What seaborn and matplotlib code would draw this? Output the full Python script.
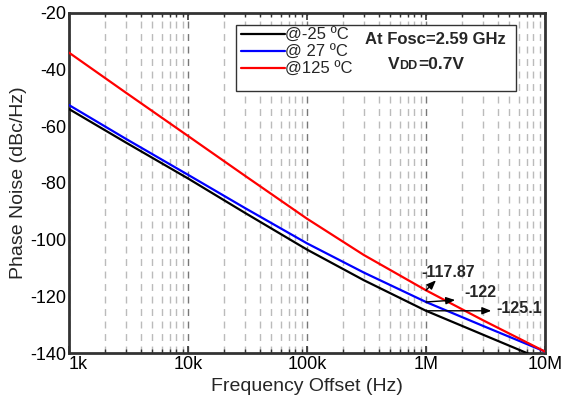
import numpy as np
import pandas as pd
import seaborn as sns
import matplotlib
matplotlib.use('Agg')
import matplotlib.pyplot as plt
from matplotlib.ticker import FixedLocator, MultipleLocator, NullFormatter, FixedFormatter, LogLocator
from matplotlib.patches import Rectangle

# ---------------- data ----------------
freq = [1e3, 3e3, 1e4, 3e4, 1e5, 3e5, 1e6, 3e6, 1e7]
pn_m25 = [-53.9, -65.7, -78.4, -90.5, -103.5, -114.3, -125.1, -133.5, -142.7]
pn_27 = [-52.5, -64.4, -77.1, -88.8, -101.3, -111.6, -122.0, -130.4, -139.5]
pn_125 = [-34.0, -48.1, -63.4, -77.4, -92.6, -105.4, -117.87, -128.4, -139.5]
series_labels = ['@-25 ºC', '@ 27 ºC', '@125 ºC']
series_colors = ['#000000', '#0000ff', '#ff0000']
xtick_vals = [1e3, 1e4, 1e5, 1e6, 1e7]
xtick_labels = ['1k', '10k', '100k', '1M', '10M']
marker_freq = 1e6
marker_vals = [-117.87, -122.0, -125.1]
marker_texts = ['-117.87', '-122', '-125.1']

df = pd.DataFrame({
    'freq': freq * 3,
    'pn': pn_m25 + pn_27 + pn_125,
    'series': [series_labels[0]] * len(freq) + [series_labels[1]] * len(freq) + [series_labels[2]] * len(freq),
})

# ---------------- style ----------------
sns.set_theme(style='white')
plt.rcParams['font.family'] = ['Liberation Sans', 'DejaVu Sans']
plt.rcParams['axes.unicode_minus'] = False

fig = plt.figure(figsize=(5.63, 4.01), dpi=100)
ax = fig.add_axes([0.1226, 0.1197, 0.968 - 0.1226, 0.9676 - 0.1197])

sns.lineplot(data=df, x='freq', y='pn', hue='series', palette=dict(zip(series_labels, series_colors)),
             hue_order=series_labels, linewidth=1.6, ax=ax, legend=False, zorder=3)

ax.set_xscale('log')
ax.set_xlim(1e3, 1e7)
ax.set_ylim(-140, -20)

# ticks
ax.xaxis.set_major_locator(FixedLocator(xtick_vals))
ax.xaxis.set_major_formatter(FixedFormatter(xtick_labels))
ax.xaxis.set_minor_locator(LogLocator(base=10, subs=np.arange(2, 10)))
ax.xaxis.set_minor_formatter(NullFormatter())
ax.yaxis.set_major_locator(MultipleLocator(20))
ax.yaxis.set_minor_locator(MultipleLocator(10))
ax.tick_params(axis='both', which='both', direction='in', colors='#333333', labelcolor='black')
ax.tick_params(axis='x', which='both', top=True, bottom=True)
ax.tick_params(axis='both', which='major', length=5, width=1.2, labelsize=13, pad=2)
ax.tick_params(axis='both', which='minor', length=3, width=1.0)
ax.get_xticklabels()[0].set_horizontalalignment('left')

# grid
ax.grid(False)
ax.xaxis.grid(True, which='major', linestyle=(0, (5, 4)), color='#777777', linewidth=1.0, zorder=0)
ax.xaxis.grid(True, which='minor', linestyle=(0, (5, 4)), color='#bbbbbb', linewidth=1.0, zorder=0)

for sp in ax.spines.values():
    sp.set_color('#333333')
    sp.set_linewidth(2)

ax.set_xlabel('Frequency Offset (Hz)', fontsize=14, labelpad=4)
ax.set_ylabel('Phase Noise (dBc/Hz)', fontsize=14, labelpad=2)

# legend box
box = Rectangle((0.351, 0.770), 0.939 - 0.351, 0.965 - 0.770, transform=ax.transAxes,
                facecolor='white', edgecolor='#333333', linewidth=1.0, zorder=4)
ax.add_patch(box)
handles = [plt.Line2D([], [], color=c, linewidth=1.6) for c in series_colors]
leg = ax.legend(handles, series_labels, loc='upper left', bbox_to_anchor=(0.362, 0.957),
                frameon=False, fontsize=12, handlelength=2.6, handletextpad=0.05,
                labelspacing=0.12, borderpad=0, borderaxespad=0)
leg.set_zorder(5)

ax.text(0.769, 0.9235, 'At Fosc=2.59 GHz', transform=ax.transAxes, fontsize=12, fontweight='bold',
        ha='center', va='center', zorder=6)
t1 = ax.text(0.670, 0.835, 'V', transform=ax.transAxes, fontsize=12.5, fontweight='bold',
             ha='left', va='baseline', zorder=6)
t2 = ax.annotate('DD', xy=(1, 0), xycoords=t1, fontsize=9, fontweight='bold',
                 ha='left', va='bottom', zorder=6)
t3 = ax.annotate('=0.7V', xy=(1, 0), xycoords=t2, fontsize=12.5, fontweight='bold',
                 ha='left', va='bottom', zorder=6)

# markers at 1 MHz
arrow_offsets = [(7.2, 7.2), (21, 1.4), (47, 0)]
text_offsets = [(16, 12.5), (39, 6.5), (67, 1.3)]
for val, txt, aoff, toff in zip(marker_vals, marker_texts, arrow_offsets, text_offsets):
    ax.annotate('', xy=(marker_freq, val), xytext=aoff, textcoords='offset points',
                arrowprops=dict(arrowstyle='<|-,head_length=0.45,head_width=0.18', color='black',
                                lw=1.0, shrinkA=0, shrinkB=0), zorder=6)
    ax.annotate(txt, xy=(marker_freq, val), xytext=toff, textcoords='offset points',
                fontsize=11.5, fontweight='bold', ha='center', va='center', zorder=6)

fig.savefig('out.png', dpi=100)
